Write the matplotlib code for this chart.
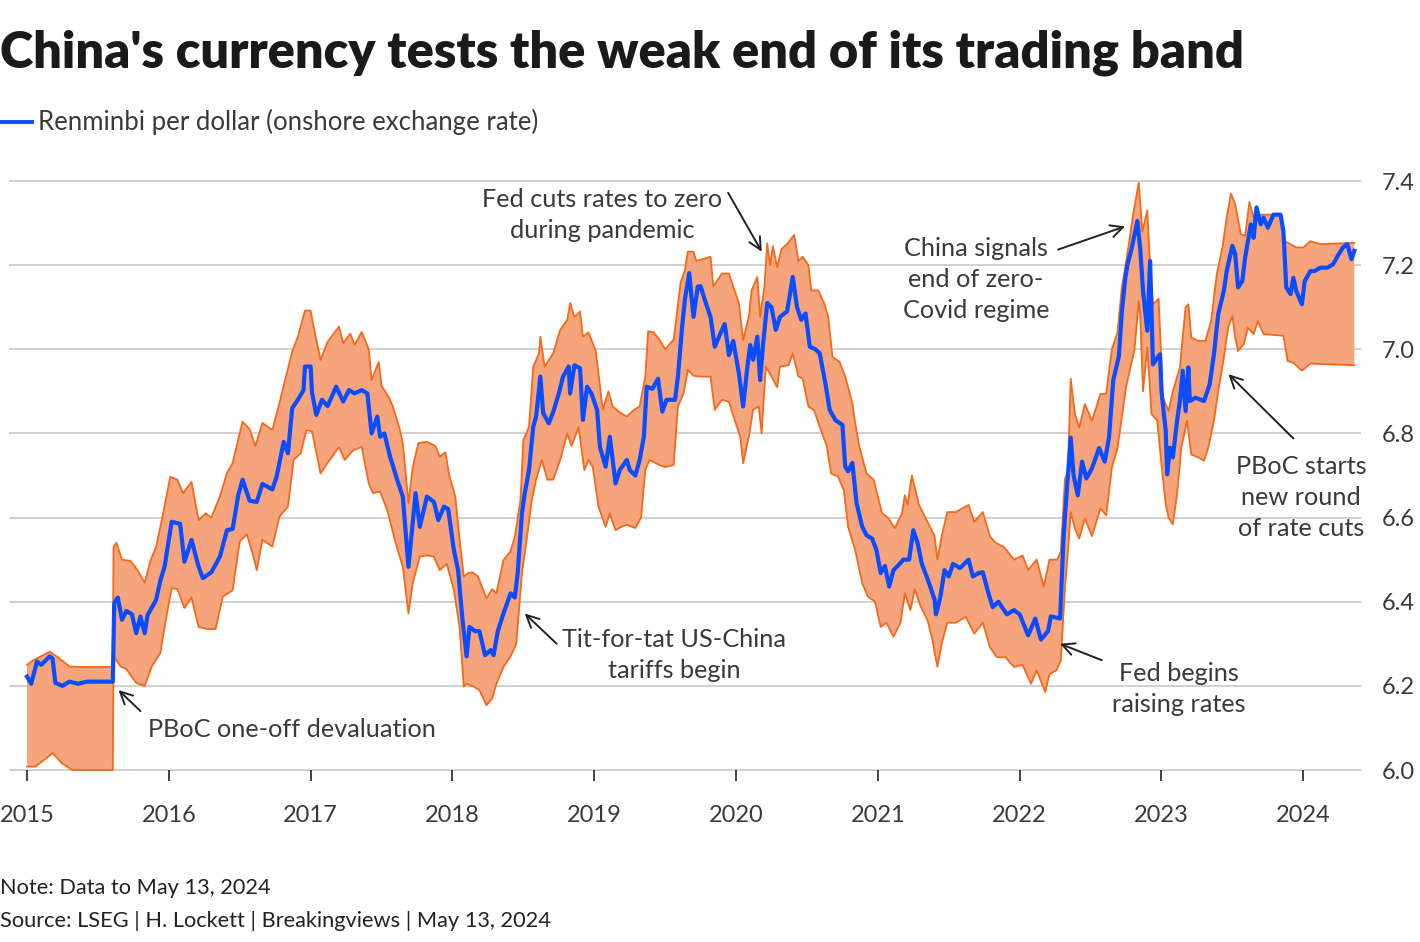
import matplotlib
matplotlib.use("Agg")
import matplotlib.pyplot as plt

plt.rcParams["font.family"] = ["Lato", "DejaVu Sans"]

# Onshore renminbi per dollar (spot)
spot_year = [2015.00, 2015.03, 2015.07, 2015.10, 2015.16, 2015.18, 2015.20, 2015.25, 2015.30, 2015.36,
             2015.42, 2015.50, 2015.605, 2015.615, 2015.64, 2015.67, 2015.70, 2015.74, 2015.77, 2015.80,
             2015.83, 2015.85, 2015.91, 2015.94, 2015.97, 2016.02, 2016.08, 2016.11, 2016.16, 2016.21,
             2016.24, 2016.30, 2016.36, 2016.41, 2016.45, 2016.49, 2016.52, 2016.57, 2016.62, 2016.66,
             2016.73, 2016.76, 2016.81, 2016.84, 2016.87, 2016.91, 2016.95, 2016.96, 2017.00, 2017.01,
             2017.04, 2017.08, 2017.12, 2017.18, 2017.23, 2017.27, 2017.31, 2017.36, 2017.40, 2017.43,
             2017.47, 2017.49, 2017.52, 2017.56, 2017.61, 2017.65, 2017.69, 2017.74, 2017.77, 2017.82,
             2017.87, 2017.90, 2017.94, 2017.97, 2018.01, 2018.04, 2018.07, 2018.10, 2018.12, 2018.16,
             2018.19, 2018.23, 2018.27, 2018.29, 2018.32, 2018.36, 2018.41, 2018.44, 2018.46, 2018.49,
             2018.51, 2018.54, 2018.57, 2018.59, 2018.62, 2018.64, 2018.68, 2018.71, 2018.75, 2018.78,
             2018.82, 2018.83, 2018.86, 2018.90, 2018.92, 2018.95, 2018.98, 2019.02, 2019.04, 2019.08,
             2019.11, 2019.15, 2019.18, 2019.23, 2019.25, 2019.29, 2019.32, 2019.35, 2019.37, 2019.41,
             2019.45, 2019.48, 2019.51, 2019.57, 2019.59, 2019.62, 2019.64, 2019.67, 2019.70, 2019.73,
             2019.75, 2019.78, 2019.82, 2019.85, 2019.89, 2019.92, 2019.95, 2019.98, 2020.02, 2020.05,
             2020.08, 2020.10, 2020.12, 2020.15, 2020.17, 2020.19, 2020.22, 2020.25, 2020.28, 2020.31,
             2020.36, 2020.40, 2020.43, 2020.46, 2020.49, 2020.52, 2020.56, 2020.59, 2020.63, 2020.66,
             2020.70, 2020.75, 2020.77, 2020.79, 2020.82, 2020.85, 2020.89, 2020.92, 2020.96, 2020.99,
             2021.02, 2021.05, 2021.08, 2021.11, 2021.14, 2021.18, 2021.22, 2021.25, 2021.28, 2021.31,
             2021.36, 2021.40, 2021.41, 2021.44, 2021.47, 2021.50, 2021.53, 2021.58, 2021.64, 2021.67,
             2021.71, 2021.74, 2021.78, 2021.81, 2021.85, 2021.91, 2021.96, 2022.00, 2022.06, 2022.11,
             2022.15, 2022.20, 2022.22, 2022.285, 2022.31, 2022.33, 2022.36, 2022.38, 2022.41, 2022.44,
             2022.47, 2022.51, 2022.56, 2022.60, 2022.63, 2022.66, 2022.70, 2022.72, 2022.745, 2022.76,
             2022.79, 2022.83, 2022.85, 2022.87, 2022.90, 2022.92, 2022.93, 2022.94, 2022.97, 2022.99,
             2023.00, 2023.03, 2023.04, 2023.06, 2023.08, 2023.11, 2023.13, 2023.15, 2023.17, 2023.19,
             2023.20, 2023.24, 2023.30, 2023.34, 2023.37, 2023.40, 2023.44, 2023.46, 2023.50, 2023.52,
             2023.54, 2023.57, 2023.59, 2023.63, 2023.65, 2023.67, 2023.70, 2023.72, 2023.75, 2023.79,
             2023.84, 2023.86, 2023.88, 2023.91, 2023.93, 2023.95, 2023.99, 2024.01, 2024.05, 2024.08,
             2024.12, 2024.17, 2024.21, 2024.25, 2024.28, 2024.31, 2024.34, 2024.36]
spot_rate = [6.222, 6.205, 6.258, 6.25, 6.27, 6.265, 6.207, 6.20, 6.21, 6.205,
             6.21, 6.21, 6.21, 6.397, 6.41, 6.357, 6.378, 6.37, 6.325, 6.365,
             6.325, 6.368, 6.404, 6.45, 6.483, 6.59, 6.585, 6.495, 6.547, 6.483,
             6.456, 6.47, 6.507, 6.57, 6.573, 6.654, 6.69, 6.64, 6.637, 6.68,
             6.667, 6.697, 6.78, 6.753, 6.86, 6.88, 6.903, 6.959, 6.959, 6.896,
             6.844, 6.88, 6.865, 6.911, 6.876, 6.903, 6.895, 6.903, 6.895, 6.80,
             6.84, 6.792, 6.80, 6.745, 6.69, 6.65, 6.483, 6.658, 6.578, 6.65,
             6.637, 6.594, 6.626, 6.62, 6.523, 6.475, 6.36, 6.27, 6.34, 6.33,
             6.33, 6.273, 6.285, 6.273, 6.33, 6.372, 6.42, 6.41, 6.468, 6.61,
             6.658, 6.713, 6.816, 6.84, 6.935, 6.848, 6.824, 6.85, 6.895, 6.935,
             6.959, 6.895, 6.962, 6.955, 6.832, 6.911, 6.895, 6.856, 6.768, 6.721,
             6.792, 6.681, 6.713, 6.737, 6.713, 6.70, 6.737, 6.792, 6.911, 6.906,
             6.93, 6.852, 6.88, 6.88, 6.935, 7.054, 7.12, 7.181, 7.077, 7.149,
             7.15, 7.117, 7.077, 7.006, 7.038, 7.06, 6.986, 7.02, 6.943, 6.864,
             6.959, 7.01, 6.975, 7.03, 6.927, 7.01, 7.11, 7.10, 7.046, 7.077,
             7.09, 7.172, 7.10, 7.07, 7.085, 7.006, 7.0, 6.99, 6.919, 6.856,
             6.832, 6.82, 6.721, 6.71, 6.73, 6.634, 6.578, 6.558, 6.55, 6.523,
             6.468, 6.485, 6.436, 6.475, 6.485, 6.50, 6.50, 6.57, 6.54, 6.49,
             6.445, 6.405, 6.37, 6.41, 6.475, 6.46, 6.49, 6.48, 6.50, 6.46,
             6.468, 6.47, 6.42, 6.387, 6.40, 6.37, 6.38, 6.37, 6.32, 6.36,
             6.31, 6.33, 6.365, 6.36, 6.556, 6.653, 6.79, 6.70, 6.653, 6.733,
             6.693, 6.717, 6.765, 6.733, 6.79, 6.926, 6.984, 7.087, 7.17, 7.20,
             7.24, 7.305, 7.24, 7.139, 7.044, 7.21, 7.083, 6.964, 6.98, 6.988,
             6.90, 6.806, 6.703, 6.766, 6.743, 6.83, 6.877, 6.949, 6.853, 6.957,
             6.877, 6.885, 6.877, 6.917, 6.988, 7.083, 7.139, 7.186, 7.246, 7.226,
             7.147, 7.162, 7.218, 7.297, 7.265, 7.337, 7.297, 7.313, 7.289, 7.32,
             7.32, 7.28, 7.147, 7.131, 7.17, 7.139, 7.107, 7.162, 7.186, 7.186,
             7.194, 7.194, 7.202, 7.226, 7.242, 7.25, 7.214, 7.234]

# Weak (upper) edge of the trading band
upper_year = [2015.00, 2015.04, 2015.16, 2015.21, 2015.30, 2015.36, 2015.605, 2015.61, 2015.63, 2015.67,
              2015.73, 2015.78, 2015.83, 2015.87, 2015.91, 2015.96, 2016.01, 2016.06, 2016.10, 2016.16,
              2016.21, 2016.26, 2016.30, 2016.36, 2016.41, 2016.45, 2016.50, 2016.52, 2016.57, 2016.61,
              2016.66, 2016.73, 2016.78, 2016.82, 2016.87, 2016.91, 2016.96, 2017.00, 2017.03, 2017.07,
              2017.12, 2017.20, 2017.23, 2017.28, 2017.31, 2017.36, 2017.41, 2017.43, 2017.48, 2017.50,
              2017.55, 2017.58, 2017.63, 2017.65, 2017.69, 2017.72, 2017.76, 2017.82, 2017.88, 2017.91,
              2017.95, 2017.98, 2018.02, 2018.05, 2018.08, 2018.11, 2018.14, 2018.18, 2018.24, 2018.28,
              2018.31, 2018.36, 2018.41, 2018.44, 2018.48, 2018.50, 2018.54, 2018.57, 2018.61, 2018.62,
              2018.65, 2018.71, 2018.76, 2018.81, 2018.83, 2018.86, 2018.90, 2018.92, 2018.96, 2019.01,
              2019.03, 2019.06, 2019.10, 2019.13, 2019.18, 2019.23, 2019.28, 2019.32, 2019.36, 2019.38,
              2019.42, 2019.46, 2019.50, 2019.56, 2019.61, 2019.64, 2019.66, 2019.70, 2019.72, 2019.82,
              2019.84, 2019.90, 2019.95, 2019.98, 2020.02, 2020.05, 2020.09, 2020.11, 2020.15, 2020.17,
              2020.20, 2020.22, 2020.24, 2020.26, 2020.29, 2020.32, 2020.36, 2020.41, 2020.44, 2020.47,
              2020.51, 2020.53, 2020.58, 2020.62, 2020.65, 2020.68, 2020.73, 2020.77, 2020.82, 2020.84,
              2020.87, 2020.92, 2020.97, 2021.00, 2021.03, 2021.07, 2021.12, 2021.17, 2021.19, 2021.21,
              2021.24, 2021.29, 2021.35, 2021.40, 2021.42, 2021.45, 2021.49, 2021.55, 2021.64, 2021.68,
              2021.74, 2021.79, 2021.83, 2021.89, 2021.96, 2022.02, 2022.06, 2022.12, 2022.17, 2022.21,
              2022.265, 2022.29, 2022.32, 2022.34, 2022.36, 2022.39, 2022.42, 2022.46, 2022.51, 2022.57,
              2022.61, 2022.65, 2022.69, 2022.72, 2022.77, 2022.80, 2022.84, 2022.865, 2022.90, 2022.92,
              2022.94, 2022.98, 2023.01, 2023.05, 2023.08, 2023.13, 2023.17, 2023.19, 2023.21, 2023.26,
              2023.31, 2023.35, 2023.39, 2023.43, 2023.46, 2023.49, 2023.52, 2023.56, 2023.59, 2023.62,
              2023.65, 2023.70, 2023.84, 2023.87, 2023.95, 2024.00, 2024.05, 2024.12, 2024.36]
upper_rate = [6.25, 6.26, 6.281, 6.27, 6.246, 6.245, 6.245, 6.53, 6.54, 6.50,
              6.497, 6.475, 6.445, 6.497, 6.53, 6.61, 6.697, 6.69, 6.658, 6.685,
              6.594, 6.61, 6.60, 6.65, 6.706, 6.73, 6.80, 6.828, 6.81, 6.77,
              6.825, 6.808, 6.872, 6.927, 6.994, 7.03, 7.092, 7.092, 7.039, 6.975,
              7.018, 7.054, 7.015, 7.037, 7.01, 7.041, 7.0, 6.927, 6.97, 6.913,
              6.887, 6.864, 6.808, 6.777, 6.635, 6.72, 6.777, 6.78, 6.77, 6.745,
              6.755, 6.697, 6.65, 6.55, 6.46, 6.468, 6.47, 6.46, 6.408, 6.43,
              6.42, 6.499, 6.52, 6.555, 6.642, 6.784, 6.816, 6.959, 6.99, 7.03,
              6.959, 6.99, 7.046, 7.07, 7.11, 7.077, 7.09, 7.03, 7.04, 6.997,
              6.943, 6.856, 6.90, 6.864, 6.85, 6.84, 6.856, 6.864, 6.935, 7.043,
              7.04, 7.023, 7.0, 7.023, 7.16, 7.189, 7.232, 7.232, 7.21, 7.22,
              7.149, 7.18, 7.18, 7.149, 7.11, 7.022, 7.077, 7.14, 7.172, 7.077,
              7.149, 7.252, 7.20, 7.245, 7.195, 7.238, 7.25, 7.272, 7.21, 7.22,
              7.20, 7.14, 7.14, 7.11, 7.077, 6.982, 6.97, 6.935, 6.872, 6.825,
              6.768, 6.705, 6.69, 6.65, 6.61, 6.60, 6.575, 6.61, 6.653, 6.63,
              6.70, 6.63, 6.59, 6.556, 6.50, 6.556, 6.613, 6.613, 6.63, 6.59,
              6.613, 6.556, 6.54, 6.53, 6.50, 6.51, 6.476, 6.50, 6.436, 6.50,
              6.50, 6.52, 6.693, 6.71, 6.93, 6.846, 6.814, 6.87, 6.83, 6.894,
              6.894, 7.0, 7.04, 7.145, 7.25, 7.32, 7.396, 7.28, 7.33, 7.20,
              7.107, 7.12, 6.885, 6.853, 6.90, 6.957, 7.10, 7.107, 7.028, 7.02,
              7.02, 7.067, 7.178, 7.242, 7.313, 7.37, 7.345, 7.273, 7.27, 7.35,
              7.313, 7.32, 7.32, 7.257, 7.242, 7.242, 7.257, 7.25, 7.253]

# Strong (lower) edge of the trading band
lower_year = [2015.00, 2015.06, 2015.18, 2015.25, 2015.32, 2015.605, 2015.61, 2015.66, 2015.70, 2015.77,
              2015.83, 2015.88, 2015.94, 2015.97, 2016.02, 2016.06, 2016.11, 2016.16, 2016.21, 2016.27,
              2016.33, 2016.38, 2016.45, 2016.50, 2016.55, 2016.59, 2016.62, 2016.66, 2016.73, 2016.78,
              2016.84, 2016.88, 2016.93, 2016.97, 2017.01, 2017.07, 2017.12, 2017.20, 2017.24, 2017.30,
              2017.36, 2017.41, 2017.44, 2017.49, 2017.54, 2017.60, 2017.65, 2017.69, 2017.72, 2017.77,
              2017.82, 2017.87, 2017.91, 2017.96, 2018.01, 2018.05, 2018.08, 2018.10, 2018.15, 2018.19,
              2018.24, 2018.28, 2018.31, 2018.36, 2018.41, 2018.45, 2018.49, 2018.52, 2018.56, 2018.59,
              2018.63, 2018.67, 2018.71, 2018.76, 2018.81, 2018.84, 2018.89, 2018.93, 2018.96, 2018.99,
              2019.03, 2019.08, 2019.11, 2019.15, 2019.19, 2019.23, 2019.29, 2019.33, 2019.36, 2019.39,
              2019.46, 2019.50, 2019.56, 2019.59, 2019.63, 2019.66, 2019.70, 2019.75, 2019.82, 2019.85,
              2019.90, 2019.95, 2019.99, 2020.03, 2020.05, 2020.09, 2020.12, 2020.16, 2020.18, 2020.21,
              2020.25, 2020.29, 2020.31, 2020.37, 2020.40, 2020.44, 2020.47, 2020.51, 2020.55, 2020.59,
              2020.64, 2020.67, 2020.72, 2020.76, 2020.79, 2020.84, 2020.89, 2020.93, 2020.98, 2021.02,
              2021.06, 2021.11, 2021.16, 2021.19, 2021.23, 2021.26, 2021.30, 2021.35, 2021.38, 2021.42,
              2021.45, 2021.49, 2021.55, 2021.62, 2021.68, 2021.74, 2021.79, 2021.84, 2021.90, 2021.96,
              2022.02, 2022.08, 2022.12, 2022.18, 2022.21, 2022.26, 2022.29, 2022.32, 2022.34, 2022.36,
              2022.39, 2022.42, 2022.46, 2022.51, 2022.57, 2022.61, 2022.65, 2022.69, 2022.75, 2022.81,
              2022.84, 2022.85, 2022.87, 2022.90, 2022.93, 2022.97, 2023.00, 2023.03, 2023.05, 2023.08,
              2023.11, 2023.14, 2023.18, 2023.21, 2023.26, 2023.30, 2023.33, 2023.37, 2023.40, 2023.44,
              2023.47, 2023.50, 2023.52, 2023.54, 2023.58, 2023.61, 2023.65, 2023.68, 2023.72, 2023.86,
              2023.89, 2023.93, 2023.99, 2024.05, 2024.36]
lower_rate = [6.008, 6.008, 6.04, 6.015, 6.0, 6.0, 6.27, 6.246, 6.24, 6.207,
              6.20, 6.246, 6.278, 6.34, 6.432, 6.43, 6.385, 6.41, 6.34, 6.335,
              6.335, 6.412, 6.427, 6.543, 6.56, 6.516, 6.475, 6.547, 6.531, 6.602,
              6.626, 6.737, 6.753, 6.808, 6.805, 6.705, 6.73, 6.768, 6.737, 6.76,
              6.768, 6.681, 6.658, 6.662, 6.618, 6.539, 6.483, 6.372, 6.444, 6.507,
              6.51, 6.507, 6.475, 6.49, 6.428, 6.34, 6.198, 6.205, 6.198, 6.19,
              6.154, 6.17, 6.205, 6.245, 6.27, 6.30, 6.467, 6.539, 6.642, 6.69,
              6.737, 6.69, 6.69, 6.737, 6.80, 6.77, 6.815, 6.713, 6.737, 6.72,
              6.626, 6.578, 6.61, 6.57, 6.578, 6.583, 6.575, 6.60, 6.713, 6.737,
              6.725, 6.72, 6.725, 6.864, 6.895, 6.951, 6.937, 6.935, 6.935, 6.856,
              6.88, 6.875, 6.832, 6.792, 6.729, 6.792, 6.856, 6.864, 6.80, 6.959,
              6.935, 6.91, 6.959, 6.962, 6.99, 6.935, 6.93, 6.864, 6.855, 6.816,
              6.77, 6.705, 6.697, 6.665, 6.578, 6.523, 6.444, 6.412, 6.40, 6.34,
              6.35, 6.317, 6.35, 6.42, 6.38, 6.43, 6.39, 6.356, 6.316, 6.245,
              6.30, 6.35, 6.35, 6.364, 6.324, 6.35, 6.292, 6.268, 6.268, 6.245,
              6.25, 6.205, 6.237, 6.185, 6.228, 6.237, 6.26, 6.436, 6.517, 6.613,
              6.574, 6.55, 6.598, 6.556, 6.622, 6.605, 6.718, 6.765, 6.91, 7.0,
              7.115, 7.083, 6.9, 7.004, 6.846, 6.83, 6.727, 6.632, 6.60, 6.584,
              6.655, 6.766, 6.83, 6.75, 6.743, 6.735, 6.766, 6.83, 6.90, 6.98,
              7.051, 7.079, 7.028, 6.996, 7.012, 7.051, 7.036, 7.067, 7.036, 7.032,
              6.972, 6.968, 6.949, 6.966, 6.962]

year_ticks = list(range(2015, 2025))
rate_ticks = [6.0, 6.2, 6.4, 6.6, 6.8, 7.0, 7.2, 7.4]

BLUE = "#0A4CFF"
EDGE = "#F26A1C"
FILL = "#F5A47C"
GRID = "#C8C8C8"
INK = "#222222"
TXT = "#3a3a3a"

W, H = 1420, 942
fig = plt.figure(figsize=(W / 100, H / 100), dpi=100)
ax = fig.add_axes([10 / W, 1 - 770 / H, 1350 / W, 589 / H])
ax.set_xlim(2014.88, 2024.40)
ax.set_ylim(6.0, 7.4)

for r in rate_ticks:
    ax.axhline(r, color=GRID, lw=1.2, zorder=1, clip_on=False)

ax.fill(upper_year + lower_year[::-1], upper_rate + lower_rate[::-1],
        color=FILL, lw=0, zorder=2, clip_on=False)
ax.plot(upper_year, upper_rate, color=EDGE, lw=1.3, zorder=3, clip_on=False)
ax.plot(lower_year, lower_rate, color=EDGE, lw=1.3, zorder=3, clip_on=False)
ax.plot(spot_year, spot_rate, color=BLUE, lw=3.0, zorder=4,
        solid_joinstyle="round", clip_on=False)

for s in ax.spines.values():
    s.set_visible(False)
ax.set_xticks(year_ticks)
ax.set_xticklabels([str(y) for y in year_ticks])
ax.tick_params(axis="x", length=8, width=1.2, color=INK, pad=17,
               labelsize=17, labelcolor=TXT)
ax.yaxis.tick_right()
ax.set_yticks(rate_ticks)
ax.set_yticklabels([f"{r:.1f}" for r in rate_ticks])
ax.tick_params(axis="y", length=0, pad=16, labelsize=17, labelcolor=TXT)

# annotations: (text, text position, arrow tail, arrow head, alignment)
notes = [
    ("PBoC one-off devaluation", (2015.853, 6.097), (2015.80, 6.140), (2015.645, 6.190), "left"),
    ("Tit-for-tat US-China\ntariffs begin", (2019.563, 6.273), (2018.735, 6.300), (2018.51, 6.372), "center"),
    ("Fed cuts rates to zero\nduring pandemic", (2019.055, 7.319), (2019.944, 7.372), (2020.181, 7.232), "center"),
    ("China signals\nend of zero-\nCovid regime", (2021.692, 7.165), (2022.271, 7.237), (2022.743, 7.292), "center"),
    ("PBoC starts\nnew round\nof rate cuts", (2023.985, 6.647), (2023.930, 6.788), (2023.472, 6.941), "center"),
    ("Fed begins\nraising rates", (2023.124, 6.193), (2022.579, 6.261), (2022.285, 6.300), "center"),
]
note_texts = []
for text, pos, tail, head, ha in notes:
    t = ax.text(pos[0], pos[1], text, ha=ha, va="center", fontsize=19,
                color=TXT, linespacing=1.42, zorder=6)
    note_texts.append(t)
    ax.annotate("", xy=head, xytext=tail,
                arrowprops=dict(arrowstyle="->", color=INK, lw=1.4,
                                mutation_scale=22, shrinkA=0, shrinkB=0),
                zorder=6)

title = fig.text(0.0, 1 - 68 / H, "China's currency tests the weak end of its trading band",
                 fontsize=36, fontweight="heavy", color="#1a1a1a", va="baseline", ha="left")
fig.add_artist(plt.Line2D([0, 32 / W], [1 - 122 / H] * 2, color=BLUE, lw=2.8))
legend = fig.text(38 / W, 1 - 122 / H, "Renminbi per dollar (onshore exchange rate)",
                  fontsize=19, color=TXT, va="center", ha="left")
note = fig.text(0.0, 1 - 888 / H, "Note: Data to May 13, 2024",
                fontsize=15, color=INK, va="center", ha="left")
source = fig.text(0.0, 1 - 921 / H, "Source: LSEG | H. Lockett | Breakingviews | May 13, 2024",
                  fontsize=15, color=INK, va="center", ha="left")

# scale text so widths match the original layout
renderer = fig.canvas.get_renderer()


def fit(txt, target_px):
    w = txt.get_window_extent(renderer).width
    txt.set_fontsize(txt.get_fontsize() * target_px / w)


fit(title, 1246)
fit(legend, 499)
fit(source, 551)
note.set_fontsize(source.get_fontsize())
fit(note_texts[0], 289)
for t in note_texts[1:]:
    t.set_fontsize(note_texts[0].get_fontsize())

fig.savefig("out.png", dpi=100)
